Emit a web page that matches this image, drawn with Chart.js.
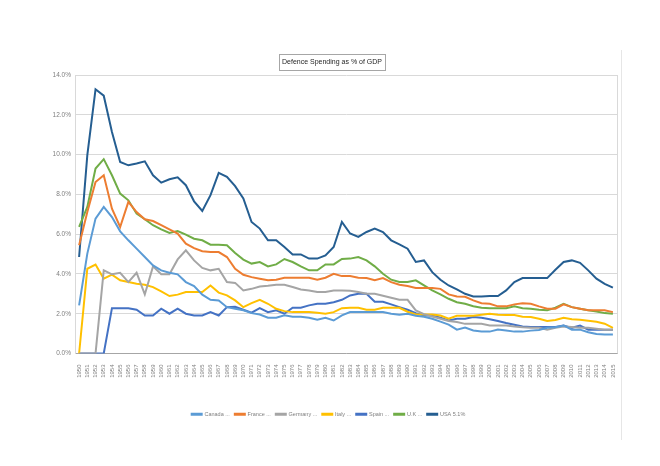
<!DOCTYPE html>
<html>
<head>
<meta charset="utf-8">
<script src="https://cdn.jsdelivr.net/npm/chart.js@4.4.1/dist/chart.umd.min.js"></script>
<style>
  html, body { margin: 0; padding: 0; background: #fff; }
  #wrap { width: 660px; height: 466px; }
</style>
</head>
<body>
<div id="wrap"><canvas id="defence-chart" width="660" height="466"></canvas></div>
<script>
// Chart data (percent of GDP)
const chartTitle = 'Defence Spending as % of GDP';

const years = ['1950','1951','1952','1953','1954','1955','1956','1957','1958','1959',
    '1960','1961','1962','1963','1964','1965','1966','1967','1968','1969',
    '1970','1971','1972','1973','1974','1975','1976','1977','1978','1979',
    '1980','1981','1982','1983','1984','1985','1986','1987','1988','1989',
    '1990','1991','1992','1993','1994','1995','1996','1997','1998','1999',
    '2000','2001','2002','2003','2004','2005','2006','2007','2008','2009',
    '2010','2011','2012','2013','2014','2015'];

const seriesNames = ['Canada ...', 'France ...', 'Germany ...', 'Italy ...', 'Spain ...', 'U.K ...', 'USA 5.1%'];
const seriesColors = ['#5b9bd5', '#ed7d31', '#a5a5a5', '#ffc000', '#4472c4', '#70ad47', '#255e91'];

const canada = [2.42, 5.02, 6.78, 7.37, 6.86, 6.14, 5.69, 5.27, 4.85, 4.43,
    4.18, 4.06, 3.98, 3.59, 3.39, 2.96, 2.70, 2.67, 2.33, 2.25,
    2.17, 2.03, 1.96, 1.80, 1.80, 1.92, 1.85, 1.85, 1.80, 1.70,
    1.80, 1.66, 1.92, 2.08, 2.08, 2.08, 2.08, 2.08, 2.00, 1.95,
    2.00, 1.90, 1.85, 1.75, 1.60, 1.45, 1.20, 1.30, 1.16, 1.11,
    1.10, 1.20, 1.16, 1.10, 1.10, 1.15, 1.18, 1.29, 1.32, 1.41,
    1.20, 1.20, 1.07, 0.98, 0.96, 0.96];

const france = [5.44, 7.11, 8.62, 8.96, 7.28, 6.36, 7.62, 7.11, 6.75, 6.66,
    6.45, 6.24, 6.03, 5.52, 5.30, 5.14, 5.10, 5.10, 4.85, 4.26,
    3.96, 3.84, 3.76, 3.68, 3.71, 3.81, 3.81, 3.81, 3.81, 3.71,
    3.81, 4.01, 3.89, 3.89, 3.81, 3.79, 3.68, 3.79, 3.59, 3.46,
    3.39, 3.29, 3.29, 3.29, 3.25, 2.97, 2.87, 2.85, 2.67, 2.53,
    2.50, 2.37, 2.37, 2.47, 2.53, 2.50, 2.37, 2.25, 2.25, 2.47,
    2.33, 2.25, 2.17, 2.17, 2.17, 2.08];

const germany = [0, 0, 0, 4.18, 3.98, 4.06, 3.59, 4.06, 2.97, 4.38,
    3.98, 3.98, 4.73, 5.19, 4.68, 4.30, 4.18, 4.26, 3.59, 3.55,
    3.17, 3.25, 3.37, 3.40, 3.46, 3.46, 3.34, 3.22, 3.17, 3.09,
    3.09, 3.17, 3.17, 3.15, 3.09, 3.00, 3.00, 2.90, 2.80, 2.70,
    2.70, 2.17, 1.98, 1.86, 1.75, 1.63, 1.58, 1.49, 1.49, 1.49,
    1.41, 1.41, 1.41, 1.36, 1.32, 1.29, 1.29, 1.20, 1.29, 1.36,
    1.33, 1.29, 1.29, 1.25, 1.20, 1.20];

const italy = [0, 4.26, 4.47, 3.76, 3.96, 3.68, 3.59, 3.51, 3.46, 3.34,
    3.12, 2.89, 2.96, 3.09, 3.09, 3.09, 3.42, 3.06, 2.92, 2.67,
    2.33, 2.53, 2.70, 2.50, 2.25, 2.13, 2.08, 2.08, 2.08, 2.05,
    2.00, 2.08, 2.28, 2.30, 2.30, 2.20, 2.20, 2.30, 2.30, 2.30,
    2.10, 1.96, 1.96, 1.96, 1.91, 1.75, 1.90, 1.90, 1.90, 1.95,
    2.00, 1.95, 1.93, 1.93, 1.85, 1.83, 1.75, 1.63, 1.68, 1.80,
    1.72, 1.70, 1.65, 1.60, 1.50, 1.29];

const spain = [0, 0, 0, 0, 2.28, 2.28, 2.28, 2.20, 1.91, 1.91,
    2.25, 2.00, 2.25, 2.00, 1.91, 1.91, 2.08, 1.91, 2.33, 2.35,
    2.20, 2.05, 2.28, 2.08, 2.17, 2.00, 2.30, 2.30, 2.42, 2.50,
    2.50, 2.58, 2.70, 2.92, 3.00, 3.00, 2.60, 2.60, 2.47, 2.33,
    2.20, 2.03, 1.91, 1.91, 1.80, 1.66, 1.75, 1.75, 1.83, 1.80,
    1.72, 1.63, 1.53, 1.45, 1.36, 1.33, 1.33, 1.33, 1.33, 1.41,
    1.29, 1.40, 1.20, 1.20, 1.20, 1.20];

const uk = [6.36, 7.37, 9.30, 9.77, 8.96, 8.04, 7.70, 7.03, 6.75, 6.45,
    6.24, 6.06, 6.16, 5.98, 5.77, 5.69, 5.47, 5.47, 5.44, 5.05,
    4.72, 4.52, 4.60, 4.38, 4.48, 4.75, 4.60, 4.38, 4.18, 4.18,
    4.48, 4.48, 4.75, 4.77, 4.85, 4.68, 4.38, 4.01, 3.71, 3.59,
    3.59, 3.68, 3.42, 3.17, 2.97, 2.75, 2.58, 2.50, 2.38, 2.30,
    2.28, 2.28, 2.28, 2.37, 2.28, 2.25, 2.20, 2.17, 2.30, 2.50,
    2.33, 2.25, 2.17, 2.11, 2.03, 2.00];

const usa = [4.85, 9.97, 13.28, 12.96, 11.14, 9.63, 9.46, 9.55, 9.66, 8.96,
    8.59, 8.76, 8.86, 8.46, 7.65, 7.17, 7.96, 9.08, 8.88, 8.41,
    7.79, 6.61, 6.28, 5.69, 5.69, 5.35, 4.98, 4.98, 4.77, 4.77,
    4.93, 5.35, 6.61, 6.03, 5.86, 6.11, 6.28, 6.10, 5.69, 5.49,
    5.27, 4.60, 4.68, 4.09, 3.71, 3.42, 3.22, 3.00, 2.87, 2.87,
    2.89, 2.89, 3.17, 3.59, 3.79, 3.79, 3.79, 3.79, 4.21, 4.60,
    4.68, 4.56, 4.18, 3.76, 3.50, 3.31];

const yTicks = [0, 2, 4, 6, 8, 10, 12, 14];

const allSeries = [canada, france, germany, italy, spain, uk, usa];

const fontFamily = "'Liberation Sans', Arial, sans-serif";
Chart.defaults.font.family = fontFamily;
Chart.defaults.color = '#7f7f7f';

// Draws the boxed title, the right edge of the plot area and the chart frame edge
const titleBox = {
    id: 'titleBox',
    afterDraw(chart) {
        const ctx = chart.ctx;
        const area = chart.chartArea;
        ctx.save();
        ctx.strokeStyle = '#d9d9d9';
        ctx.lineWidth = 1;
        ctx.beginPath();
        ctx.moveTo(Math.round(area.right) + 0.5, area.top);
        ctx.lineTo(Math.round(area.right) + 0.5, area.bottom);
        ctx.stroke();

        // outer frame edge on the right
        ctx.strokeStyle = '#e6e6e6';
        ctx.beginPath();
        ctx.moveTo(Math.round(area.right) + 4.5, 50);
        ctx.lineTo(Math.round(area.right) + 4.5, 440);
        ctx.stroke();

        ctx.font = '7px ' + fontFamily;
        const w = Math.round(ctx.measureText(chartTitle).width + 6);
        const cx = Math.round(chart.width / 2) + 2;
        const top = 54;
        ctx.fillStyle = '#ffffff';
        ctx.fillRect(cx - w / 2, top, w, 16);
        ctx.strokeStyle = '#a6a6a6';
        ctx.strokeRect(Math.round(cx - w / 2) + 0.5, top + 0.5, w, 16);
        ctx.fillStyle = '#262626';
        ctx.textAlign = 'center';
        ctx.textBaseline = 'middle';
        ctx.fillText(chartTitle, cx, top + 8.5);
        ctx.restore();
    }
};

const ctx = document.getElementById('defence-chart').getContext('2d');
const defenceChart = new Chart(ctx, {
    type: 'line',
    data: {
        labels: years,
        datasets: seriesNames.map((name, i) => ({
            label: name,
            data: allSeries[i],
            borderColor: seriesColors[i],
            backgroundColor: seriesColors[i],
            borderWidth: 2,
            pointRadius: 0,
            tension: 0,
            fill: false
        }))
    },
    options: {
        responsive: false,
        animation: false,
        layout: {
            padding: { top: 75, left: 40, right: 43, bottom: 39 }
        },
        plugins: {
            title: { display: false },
            tooltip: { enabled: false },
            legend: {
                position: 'bottom',
                labels: {
                    boxWidth: 10,
                    boxHeight: 1,
                    padding: 5,
                    color: '#7f7f7f',
                    font: { size: 5.5 }
                }
            }
        },
        scales: {
            x: {
                offset: true,
                grid: { display: false },
                border: { display: true, color: '#a6a6a6', width: 1 },
                ticks: {
                    autoSkip: false,
                    minRotation: 90,
                    maxRotation: 90,
                    padding: 3,
                    font: { size: 6 },
                    color: '#7f7f7f'
                },
                afterFit(scale) { scale.height = 53; }
            },
            y: {
                min: 0,
                max: 14,
                afterBuildTicks(scale) {
                    scale.ticks = yTicks.map(v => ({ value: v }));
                },
                grid: { color: '#d9d9d9', lineWidth: 1, drawTicks: false },
                border: { display: true, color: '#d9d9d9' },
                ticks: {
                    padding: 4,
                    font: { size: 6.5 },
                    color: '#7f7f7f',
                    callback: v => v.toFixed(1) + '%'
                },
                afterFit(scale) { scale.width = 35; }
            }
        }
    },
    plugins: [titleBox]
});
</script>
</body>
</html>
